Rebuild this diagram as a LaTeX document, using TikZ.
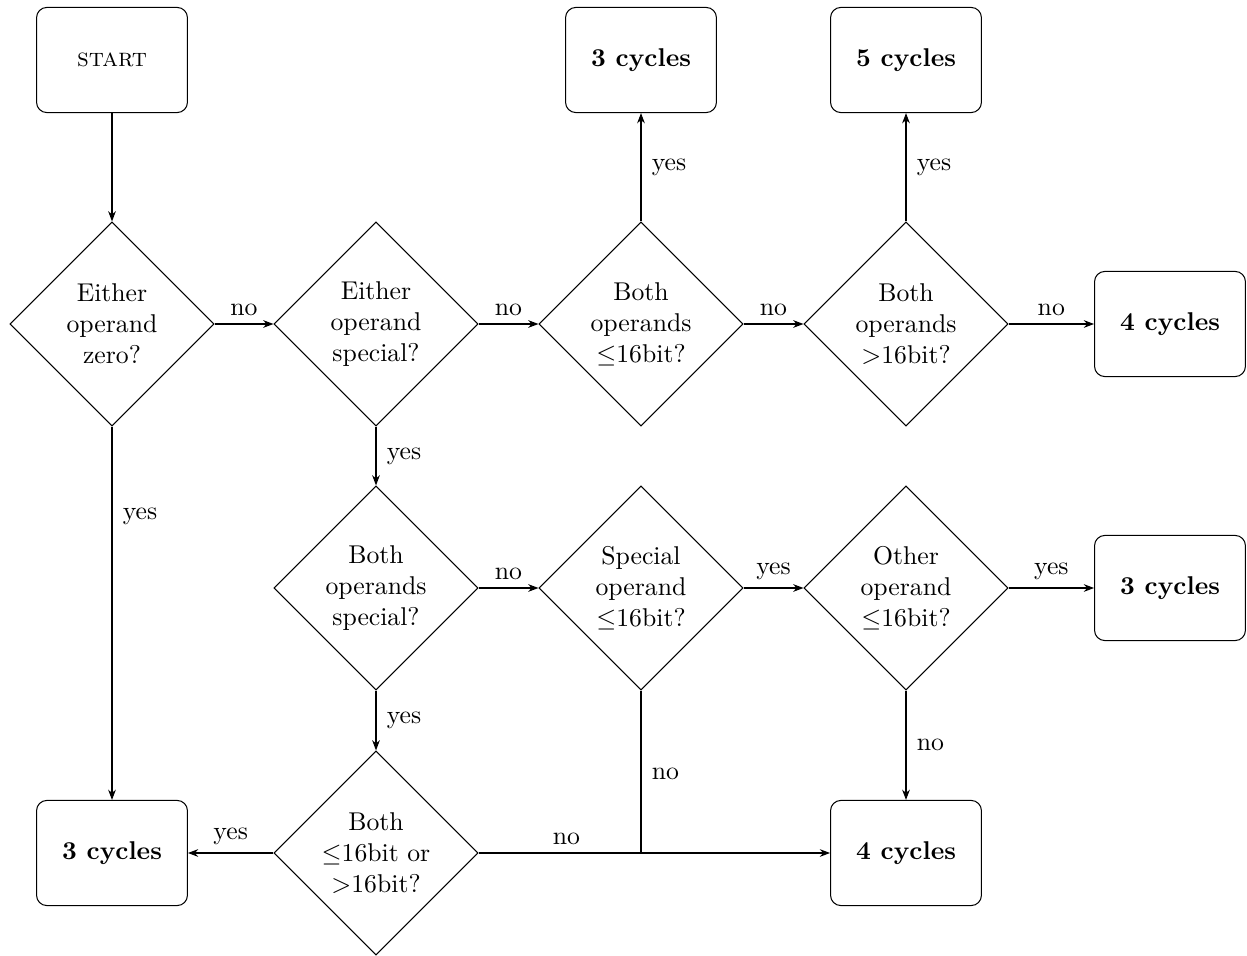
\documentclass[tikz,border=0pt]{standalone}
\usetikzlibrary{shapes.geometric,arrows.meta}
\begin{document}
\begin{tikzpicture}[x=0.389pt,y=-0.389pt,
  box/.style={draw,rounded corners=4pt,minimum width=58.7pt,minimum height=40.9pt,inner sep=2pt,font=\bfseries},
  dec/.style={draw,diamond,aspect=1,minimum width=79.4pt,minimum height=79.4pt,inner sep=0pt,align=center},
  arr/.style={-{Stealth[length=4pt,width=3pt]},line width=0.4pt},
  lbl/.style={inner sep=0pt}]
\useasboundingbox (0,0) rectangle (1247,956);
\node[box,font=\normalfont] (start) at (112,60) {\textsc{start}};
\node[box] (c3t) at (641,60) {3 cycles};
\node[box] (c5t) at (906,60) {5 cycles};
\node[box] (c4r) at (1170,324) {4 cycles};
\node[box] (c3r) at (1170,588) {3 cycles};
\node[box] (c3l) at (112,853) {3 cycles};
\node[box] (c4b) at (906,853) {4 cycles};
\node[dec] (d1) at (112,324) {Either\\operand\\zero?};
\node[dec] (d2) at (376,324) {Either\\operand\\special?};
\node[dec] (d3) at (641,324) {Both\\operands\\$\leq$16bit?};
\node[dec] (d4) at (906,324) {Both\\operands\\$>$16bit?};
\node[dec] (d5) at (376,588) {Both\\operands\\special?};
\node[dec] (d6) at (641,588) {Special\\operand\\$\leq$16bit?};
\node[dec] (d7) at (906,588) {Other\\operand\\$\leq$16bit?};
\node[dec] (d8) at (376,853) {Both\\$\leq$16bit or\\$>$16bit?};
\coordinate (j) at (641,853);
\draw[arr] (start) -- (d1);
\draw[arr] (d1) -- node[lbl,above=3pt]{no} (d2);
\draw[arr] (d1) -- node[lbl,right=4pt,pos=0.24]{yes} (c3l);
\draw[arr] (d2) -- node[lbl,above=3pt]{no} (d3);
\draw[arr] (d2) -- node[lbl,right=4pt]{yes} (d5);
\draw[arr] (d3) -- node[lbl,right=4pt]{yes} (c3t);
\draw[arr] (d3) -- node[lbl,above=3pt]{no} (d4);
\draw[arr] (d4) -- node[lbl,right=4pt]{yes} (c5t);
\draw[arr] (d4) -- node[lbl,above=3pt]{no} (c4r);
\draw[arr] (d5) -- node[lbl,above=3pt]{no} (d6);
\draw[arr] (d5) -- node[lbl,right=4pt]{yes} (d8);
\draw[arr] (d6) -- node[lbl,above=3pt]{yes} (d7);
\draw[arr] (d7) -- node[lbl,above=3pt]{yes} (c3r);
\draw[arr] (d7) -- node[lbl,right=4pt]{no} (c4b);
\draw[arr] (d8) -- node[lbl,above=3pt]{yes} (c3l);
\draw (d6) -- node[lbl,right=4pt,pos=0.51]{no} (j);
\draw[arr] (d8) -- node[lbl,above=3pt,pos=0.25]{no} (c4b);
\end{tikzpicture}
\end{document}
